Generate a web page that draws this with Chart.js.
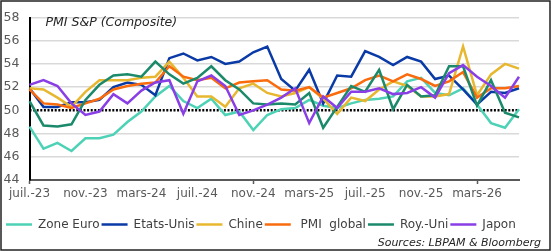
<!DOCTYPE html>
<html>
<head>
<meta charset="utf-8">
<script src="https://cdn.jsdelivr.net/npm/chart.js@4"></script>
<style>
  body { margin: 0; background: #fff; }
  canvas { display: block; }
</style>
</head>
<body>
<canvas id="pmiChart" width="552" height="252"></canvas>
<script>
// mois de juil.-23 a juin-26
var mois = [
  "juil.-23", "août-23", "sept.-23", "oct.-23", "nov.-23", "déc.-23",
  "janv.-24", "févr.-24", "mars-24", "avr.-24", "mai-24", "juin-24",
  "juil.-24", "août-24", "sept.-24", "oct.-24", "nov.-24", "déc.-24",
  "janv.-25", "févr.-25", "mars-25", "avr.-25", "mai-25", "juin-25",
  "juil.-25", "août-25", "sept.-25", "oct.-25", "nov.-25", "déc.-25",
  "janv.-26", "févr.-26", "mars-26", "avr.-26", "mai-26", "juin-26"
];

var zoneEuro = [48.6, 46.7, 47.2, 46.5, 47.6, 47.6, 47.9, 49.0, 49.9, 51.2, 52.1, 50.8,
  50.2, 51.0, 49.6, 49.9, 48.3, 49.6, 50.1, 50.2, 50.9, 50.4, 50.2, 50.6,
  50.9, 51.0, 51.2, 52.5, 52.8, 51.5, 51.3, 51.9, 50.5, 48.9, 48.5, 50.1];
var etatsUnis = [51.9, 50.3, 50.3, 50.7, 50.7, 50.9, 52.0, 52.4, 52.2, 51.3, 54.5, 54.9,
  54.3, 54.6, 54.0, 54.2, 55.0, 55.5, 52.7, 51.7, 53.5, 50.6, 53.0, 52.9,
  55.1, 54.6, 53.9, 54.6, 54.2, 52.7, 53.0, 51.8, 50.5, 51.6, 51.5, 51.9];
var chine = [51.9, 51.8, 51.1, 50.3, 51.6, 52.6, 52.6, 52.6, 52.8, 52.9, 54.2, 52.8,
  51.2, 51.2, 50.3, 51.9, 52.3, 51.5, 51.2, 51.5, 52.0, 51.0, 49.7, 51.1,
  50.8, 51.8, 52.5, 52.1, 51.2, 51.2, 51.4, 55.5, 51.3, 53.1, 54.0, 53.6];
var pmiGlobal = [51.8, 50.6, 50.5, 50.2, 50.6, 51.0, 51.8, 52.1, 52.3, 52.4, 53.8, 52.9,
  52.6, 52.8, 51.9, 52.4, 52.5, 52.6, 51.8, 51.7, 52.0, 51.1, 51.5, 51.9,
  52.6, 53.0, 52.5, 53.1, 52.7, 52.1, 52.5, 53.3, 51.1, 51.9, 51.9, 52.1];
var royUni = [50.8, 48.7, 48.6, 48.8, 50.9, 52.2, 53.0, 53.1, 52.9, 54.2, 53.1, 52.3,
  52.8, 53.8, 52.6, 51.8, 50.6, 50.5, 50.6, 50.5, 51.5, 48.5, 50.3, 52.1,
  51.6, 53.5, 50.1, 52.2, 51.2, 51.3, 53.8, 53.8, 50.4, 52.6, 49.8, 49.4];
var japon = [52.2, 52.6, 52.1, 50.6, 49.6, 49.9, 51.4, 50.6, 51.7, 52.4, 52.6, 49.7,
  52.5, 53.0, 52.1, 49.6, 50.0, 50.5, 51.1, 51.9, 48.9, 51.2, 50.2, 51.6,
  51.6, 51.9, 51.4, 51.5, 52.0, 51.1, 53.2, 53.9, 52.9, 52.1, 51.1, 52.9];

var seuil = 50;
var titre = "PMI S&P (Composite)";
var source = "Sources: LBPAM & Bloomberg";

function serie(label, data, color, order) {
  return {
    label: label,
    data: data,
    borderColor: color,
    backgroundColor: color,
    borderWidth: 2.5,
    pointRadius: 0,
    tension: 0,
    order: order
  };
}

var decor = {
  id: "decor",
  beforeDraw: function (chart) {
    var ctx = chart.ctx;
    ctx.save();
    ctx.fillStyle = "#fff";
    ctx.fillRect(0, 0, chart.width, chart.height);
    ctx.restore();
  },
  beforeDatasetsDraw: function (chart) {
    var ctx = chart.ctx, a = chart.chartArea;
    var y = chart.scales.y.getPixelForValue(seuil);
    ctx.save();
    ctx.strokeStyle = "#000";
    ctx.lineWidth = 2.5;
    ctx.setLineDash([2, 1.6]);
    ctx.beginPath();
    ctx.moveTo(a.left, y);
    ctx.lineTo(a.right, y);
    ctx.stroke();
    ctx.restore();
  },
  afterDraw: function (chart) {
    var ctx = chart.ctx, a = chart.chartArea;
    ctx.save();
    ctx.fillStyle = "#262626";
    ctx.textBaseline = "middle";
    ctx.font = "italic 12.5px 'DejaVu Sans'";
    ctx.fillText(titre, a.left + 16, a.top + 5.5);
    ctx.font = "italic 11px 'DejaVu Sans'";
    ctx.textAlign = "right";
    ctx.fillText(source, 541, 243.5);
    ctx.strokeStyle = "#222";
    ctx.lineWidth = 1.5;
    ctx.strokeRect(1, 1, 549, 249);
    ctx.restore();
  }
};

Chart.defaults.font.family = "'DejaVu Sans'";
Chart.defaults.font.size = 12;
Chart.defaults.color = "#595959";

new Chart(document.getElementById("pmiChart").getContext("2d"), {
  type: "line",
  data: {
    labels: mois,
    datasets: [
      serie("Zone Euro", zoneEuro, "#4dd2b6", 6),
      serie("Etats-Unis", etatsUnis, "#0a3aa6", 5),
      serie("Chine", chine, "#e8b730", 4),
      serie(" PMI  global", pmiGlobal, "#f96b0c", 3),
      serie("Roy.-Uni", royUni, "#1b8a6b", 2),
      serie("Japon", japon, "#8a3ee6", 1)
    ]
  },
  options: {
    responsive: false,
    animation: false,
    devicePixelRatio: 1,
    layout: { padding: { left: 4, right: 33, top: 15, bottom: 11.5 } },
    plugins: {
      title: { display: false },
      tooltip: { enabled: false },
      legend: {
        position: "bottom",
        align: "start",
        labels: {
          usePointStyle: true,
          pointStyle: "line",
          pointStyleWidth: 26,
          padding: 2,
          color: "#404040",
          font: { size: 12 },
          sort: function (a, b) { return a.datasetIndex - b.datasetIndex; }
        }
      }
    },
    scales: {
      x: {
        afterFit: function (s) { s.height = 36.5; },
        border: { color: "#595959", width: 2 },
        grid: {
          drawOnChartArea: false,
          tickLength: 4,
          tickWidth: 1.5,
          color: function (c) { return c.index % 4 === 0 ? "#595959" : "transparent"; }
        },
        ticks: {
          autoSkip: false,
          maxRotation: 0,
          padding: 3,
          callback: function (v, i) { return i % 4 === 0 ? this.getLabelForValue(v) : null; }
        }
      },
      y: {
        min: 44,
        max: 58,
        afterFit: function (s) { s.width = 25.5; },
        border: { color: "#000", width: 2 },
        grid: {
          drawTicks: false,
          lineWidth: 1.5,
          color: function (c) {
            var v = c.tick.value;
            return (v === seuil || v === 44) ? "transparent" : "#d9d9d9";
          }
        },
        ticks: { stepSize: 2, padding: 10, font: { size: 12.5 } }
      }
    }
  },
  plugins: [decor]
});
</script>
</body>
</html>
